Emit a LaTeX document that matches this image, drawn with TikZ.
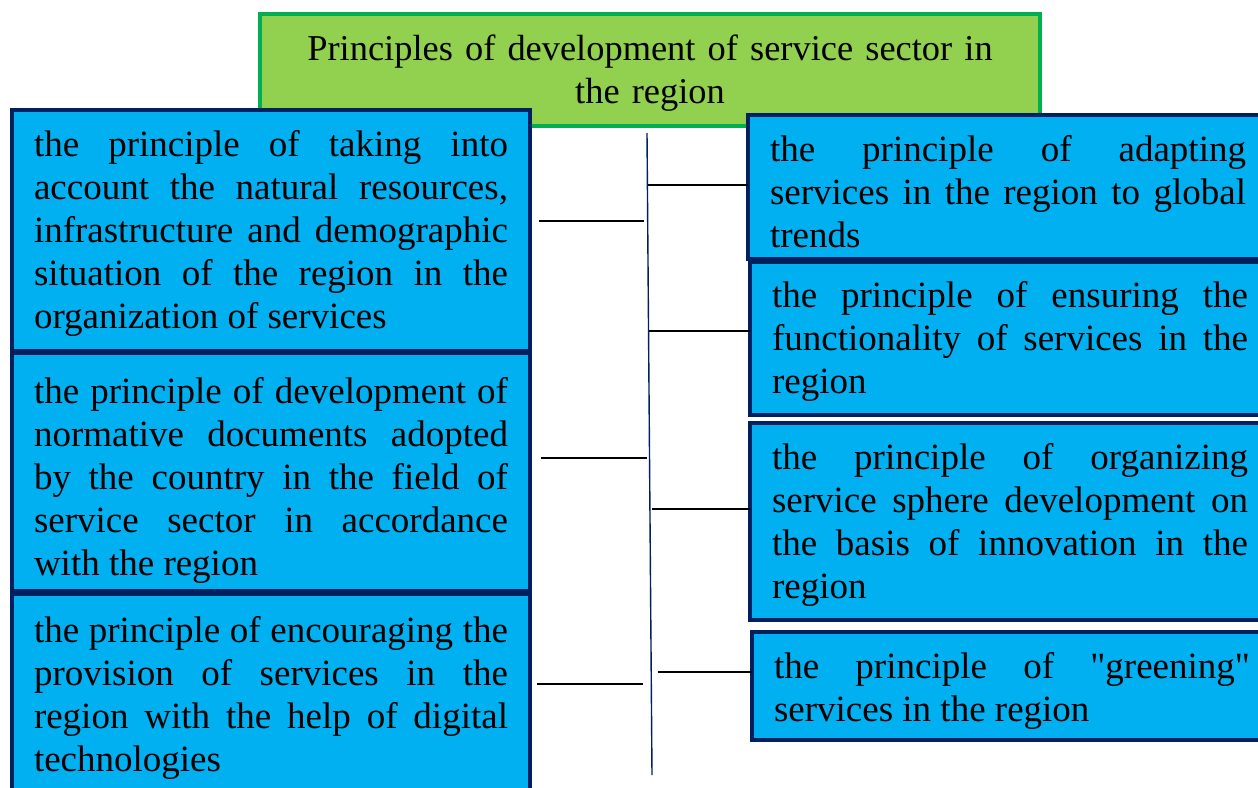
\documentclass[tikz,border=0pt]{standalone}
\usepackage{fontspec}
\setmainfont{Liberation Serif}
\newfontfamily\qfont[Ligatures=TeXOff]{Liberation Serif}
\definecolor{boxfill}{HTML}{00B0F0}
\definecolor{boxline}{HTML}{002060}
\definecolor{titlefill}{HTML}{92D050}
\definecolor{titleline}{HTML}{00B050}
\newcommand\mytop[1]{\rule{0pt}{#1pt}}
\newcommand\mybot{\rule[-9pt]{0pt}{9pt}}
\newcommand\sq{{\qfont"}}
\begin{document}
\begin{tikzpicture}[x=1pt,y=-1pt,
  principle/.style={draw=boxline, fill=boxfill, line width=4.5pt, anchor=north west,
    inner xsep=22pt, inner ysep=0pt, outer sep=0pt, align=justify,
    font=\fontsize{37}{43}\selectfont, text width=474pt},
  rprinciple/.style={principle, text width=476pt},
  titlebox/.style={draw=titleline, fill=titlefill, line width=4pt, anchor=north west,
    inner sep=0pt, outer sep=0pt, align=center, text width=760pt,
    minimum width=780pt, minimum height=112pt, font=\fontsize{36.4}{43}\selectfont},
  trunk/.style={draw=boxline, line width=1.4pt},
  conn/.style={draw=black, line width=1.5pt}]
\useasboundingbox (0,0) rectangle (1258,787);

\node[titlebox] (T) at (260,14) {\mytop{32}Principles of development of service sector in\\the region\mybot};

\node[principle, minimum height=241pt] (L1) at (12,110) {\mytop{32}the principle of taking into\linebreak account the natural resources,\linebreak infrastructure and demographic\linebreak situation of the region in the\linebreak organization of services\mybot};
\node[principle, minimum height=238pt] (L2) at (12,353) {\mytop{44}the principle of development of\linebreak normative documents adopted\linebreak by the country in the field of\linebreak service sector in accordance\linebreak with the region\mybot};
\node[principle, minimum height=198pt] (L3) at (12,594) {\mytop{36}the principle of encouraging the\linebreak provision of services in the\linebreak region with the help of digital\linebreak technologies\mybot};

\node[rprinciple, minimum height=144pt] (R1) at (748,115) {\mytop{44}the principle of adapting\linebreak services in the region to global\linebreak trends\mybot};
\node[rprinciple, minimum height=153pt] (R2) at (750,262) {\mytop{32}the principle of ensuring the\linebreak functionality of services in the\linebreak region\mybot};
\node[rprinciple, minimum height=197pt] (R3) at (750,423) {\mytop{34}the principle of organizing\linebreak service sphere development on\linebreak the basis of innovation in the\linebreak region\mybot};
\node[rprinciple, minimum height=108pt] (R4) at (752,632) {\mytop{36}the principle of \sq greening\sq\linebreak services in the region\mybot};

% trunk
\coordinate (ttop) at (647,133);
\coordinate (tbot) at (652,775);
\draw[trunk] (ttop) -- (tbot);

% left connectors
\coordinate (a1) at (539,221); \coordinate (b1) at (644,221);
\coordinate (a2) at (541,458); \coordinate (b2) at (647,458);
\coordinate (a3) at (537,684); \coordinate (b3) at (643,684);
\draw[conn] (a1) -- (b1);
\draw[conn] (a2) -- (b2);
\draw[conn] (a3) -- (b3);

% right connectors
\coordinate (r1) at (648,185);
\coordinate (r2) at (649,331);
\coordinate (r3) at (652,509);
\coordinate (r4) at (658,672);
\draw[conn] (r1) -- (r1 -| R1.west);
\draw[conn] (r2) -- (r2 -| R2.west);
\draw[conn] (r3) -- (r3 -| R3.west);
\draw[conn] (r4) -- (r4 -| R4.west);
\end{tikzpicture}
\end{document}
